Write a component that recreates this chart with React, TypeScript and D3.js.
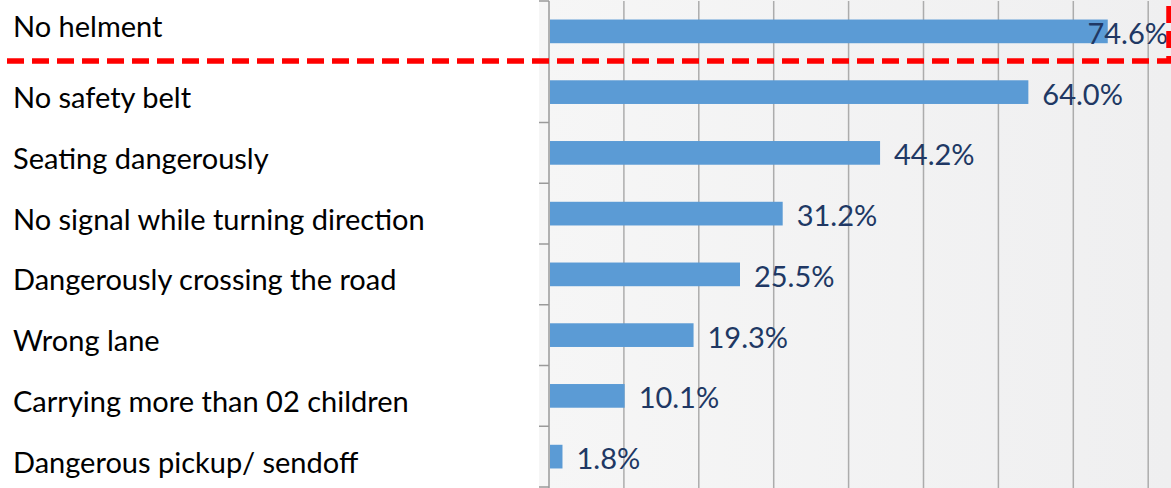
import React, { useRef, useEffect } from "react";
import * as d3 from "d3";

const categories = [
  "No helment",
  "No safety belt",
  "Seating dangerously",
  "No signal while turning direction",
  "Dangerously crossing the road",
  "Wrong lane",
  "Carrying more than 02 children",
  "Dangerous pickup/ sendoff",
];
const values = [74.6, 64.0, 44.2, 31.2, 25.5, 19.3, 10.1, 1.8];
const gridTicks = [10, 20, 30, 40, 50, 60, 70, 80];

function drawChart(el: SVGSVGElement, totalWidth: number, totalHeight: number) {
  const svg = d3.select(el);
  svg.selectAll("*").remove();

  const axisX = 549;
  const font = "Lato, 'Noto Sans', sans-serif";

  const x = d3.scaleLinear().domain([0, 80]).range([axisX, 1148.2]);
  const y = d3
    .scaleBand<string>()
    .domain(categories)
    .range([1, 487])
    .paddingInner(0.61)
    .paddingOuter(0.305);
  const step = y.step();

  const defs = svg.append("defs");
  const grad = defs
    .append("linearGradient")
    .attr("id", "plotBg")
    .attr("x1", 0)
    .attr("x2", 1)
    .attr("y1", 0)
    .attr("y2", 0);
  grad.append("stop").attr("offset", "0%").attr("stop-color", "#f6f6f6");
  grad.append("stop").attr("offset", "100%").attr("stop-color", "#efeff0");

  // plot background
  svg
    .append("rect")
    .attr("x", axisX - 10)
    .attr("y", 0)
    .attr("width", totalWidth - axisX + 10)
    .attr("height", totalHeight)
    .attr("fill", "url(#plotBg)");

  // gridlines
  svg
    .append("g")
    .selectAll("line")
    .data(gridTicks)
    .enter()
    .append("line")
    .attr("x1", (d) => x(d))
    .attr("x2", (d) => x(d))
    .attr("y1", 1)
    .attr("y2", totalHeight)
    .attr("stroke", "#acacac")
    .attr("stroke-width", 1.5);

  // category axis, ticks sit on the band boundaries
  const axis = svg.append("g");
  axis
    .append("line")
    .attr("x1", axisX)
    .attr("x2", axisX)
    .attr("y1", 1)
    .attr("y2", totalHeight)
    .attr("stroke", "#9a9a9a")
    .attr("stroke-width", 1.5);
  axis
    .selectAll("line.tick")
    .data(d3.range(categories.length + 1))
    .enter()
    .append("line")
    .attr("class", "tick")
    .attr("x1", axisX - 10)
    .attr("x2", axisX)
    .attr("y1", (i) => 1 + i * step)
    .attr("y2", (i) => 1 + i * step)
    .attr("stroke", "#9a9a9a")
    .attr("stroke-width", 1.5);

  // bars
  svg
    .append("g")
    .selectAll("rect")
    .data(values)
    .enter()
    .append("rect")
    .attr("x", x(0) + 1)
    .attr("y", (_d, i) => y(categories[i]) as number)
    .attr("width", (d) => x(d) - x(0) - 1)
    .attr("height", y.bandwidth())
    .attr("fill", "#5b9bd5");

  // category labels (first one sits a bit higher, inside the dashed box)
  svg
    .append("g")
    .selectAll("text")
    .data(categories)
    .enter()
    .append("text")
    .attr("x", 13)
    .attr("y", (d, i) => (y(d) as number) + y.bandwidth() / 2 + (i === 0 ? 6 : 16))
    .attr("font-family", font)
    .attr("font-size", 29)
    .attr("fill", "#000")
    .text((d) => d);

  // value labels
  svg
    .append("g")
    .selectAll("text")
    .data(values)
    .enter()
    .append("text")
    .attr("text-anchor", (d) => (x(d) + 14 + 80 > totalWidth ? "end" : "start"))
    .attr("x", (d) => (x(d) + 14 + 80 > totalWidth ? totalWidth - 3 : x(d) + 14))
    .attr("y", (_d, i) => (y(categories[i]) as number) + y.bandwidth() / 2 + 12.5)
    .attr("font-family", font)
    .attr("font-size", 29)
    .attr("fill", "#203864")
    .text((d) => `${d.toFixed(1)}%`);

  // red dashed highlight around the first row
  svg
    .append("rect")
    .attr("x", -10)
    .attr("y", -40)
    .attr("width", 1169 + 10)
    .attr("height", 61 + 40)
    .attr("fill", "none")
    .attr("stroke", "#ff0000")
    .attr("stroke-width", 5.5)
    .attr("stroke-dasharray", "17 8");
}

const App: React.FunctionComponent = function () {
  const width = 1171;
  const height = 488;
  const ref = useRef<SVGSVGElement>(null);

  useEffect(() => {
    if (ref.current == null) {
      return;
    }
    drawChart(ref.current, width, height);
  }, []);

  return (
    <svg
      ref={ref}
      width={width}
      height={height}
      style={{ position: "absolute", left: 0, top: 0, background: "#fff" }}
    ></svg>
  );
};

export default App;
